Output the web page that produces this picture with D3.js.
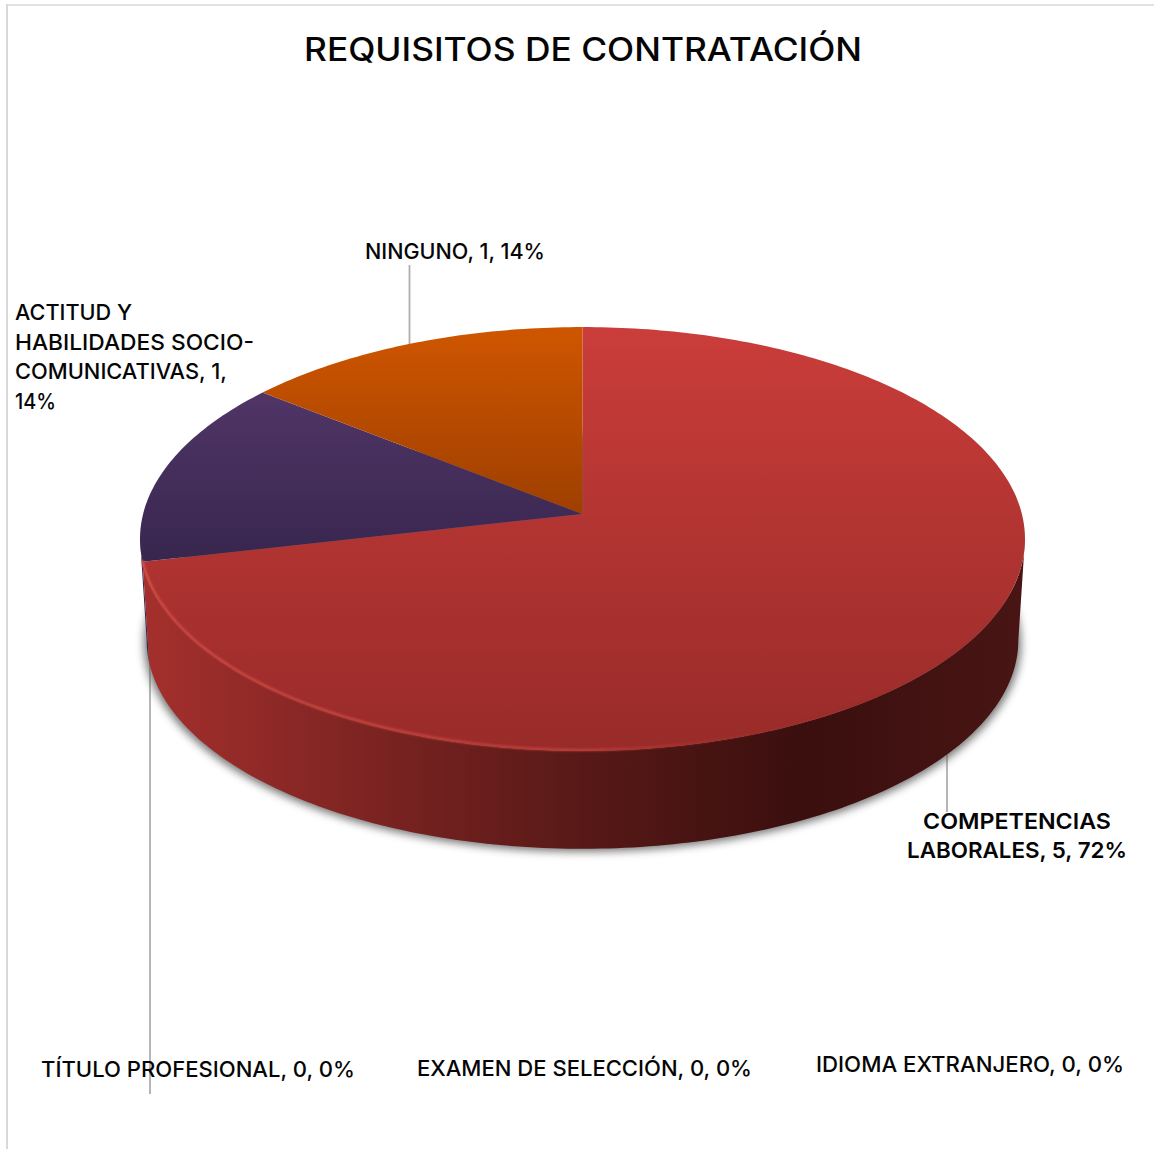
<!DOCTYPE html>
<html>
<head>
<meta charset="utf-8">
<script src="https://cdn.jsdelivr.net/npm/d3@7"></script>
<style>
  html, body { margin: 0; padding: 0; background: #fff; }
  svg { display: block; }
  text { font-family: Inter, "Open Sans", sans-serif; fill: #050505; }
</style>
</head>
<body>
<div id="chart"></div>
<script>
// data
var categories = ['COMPETENCIAS LABORALES', 'ACTITUD Y HABILIDADES SOCIO-COMUNICATIVAS', 'NINGUNO', 'TÍTULO PROFESIONAL', 'EXAMEN DE SELECCIÓN', 'IDIOMA EXTRANJERO']
var values = [5, 1, 1, 0, 0, 0]
var percents = [72, 14, 14, 0, 0, 0]
var chartTitle = 'REQUISITOS DE CONTRATACIÓN'

var width = 1154
var height = 1149

var svg = d3.select('#chart').append('svg')
  .attr('width', width)
  .attr('height', height)

// perspective of the tilted disc, fitted on the picture
var cx = 582.5
var cy = 514
var radius = 439.4
var squash = 209
var tilt = 0.118
var depth = 101
var bottomScale = 0.985

// pie starts at 12 o'clock and goes clockwise
var pie = d3.pie().value(d => d.value).sort(null)
var rows = categories.map((c, i) => ({ name: c, value: values[i], pct: percents[i] }))
var arcs = pie(rows)

function topPoint(a) {
  var w = 1 / (1 + tilt * Math.cos(a))
  return [cx + radius * Math.sin(a) * w, cy - squash * Math.cos(a) * w]
}
function bottomPoint(a) {
  var p = topPoint(a)
  return [cx + (p[0] - cx) * bottomScale, cy + 25 + depth + (p[1] - cy - 25) * bottomScale]
}

var line = d3.line()
function sweep(a0, a1, fn) {
  var n = Math.max(2, Math.ceil(Math.abs(a1 - a0) * 60))
  return d3.range(n + 1).map(i => fn(a0 + (a1 - a0) * i / n))
}

var sideStart = Math.acos(-tilt)
var sideEnd = 2 * Math.PI - sideStart
var defs = svg.append('defs')

function vGrad(id, y0, y1, c0, c1) {
  var g = defs.append('linearGradient').attr('id', id)
    .attr('gradientUnits', 'userSpaceOnUse')
    .attr('x1', 0).attr('x2', 0).attr('y1', y0).attr('y2', y1)
  g.append('stop').attr('offset', 0).attr('stop-color', c0)
  g.append('stop').attr('offset', 1).attr('stop-color', c1)
}
vGrad('top-0', 327, 751, '#ca3d3a', '#982b29')
vGrad('top-1', 393, 562, '#503566', '#38264e')
vGrad('top-2', 327, 514, '#cf5600', '#9e3f00')

function hGrad(id, stops) {
  var g = defs.append('linearGradient').attr('id', id)
    .attr('gradientUnits', 'userSpaceOnUse')
    .attr('x1', 140).attr('x2', 1025).attr('y1', 0).attr('y2', 0)
  stops.forEach(s => g.append('stop').attr('offset', s[0]).attr('stop-color', s[1]).attr('stop-opacity', s[2] === undefined ? 1 : s[2]))
}
hGrad('side-red', [[0, '#a5302d'], [0.25, '#7e2422'], [0.5, '#571917'], [0.75, '#3a0f0e'], [1, '#481514']])
hGrad('rim-light', [[0, '#dc5049', 1], [0.5, '#cf443f', 0.9], [0.7, '#a8322f', 0.3], [0.85, '#8a2a28', 0]])

var blur = defs.append('filter').attr('id', 'shadow-blur')
  .attr('x', '-5%').attr('y', '-5%').attr('width', '110%').attr('height', '110%')
blur.append('feGaussianBlur').attr('stdDeviation', 4.5)
var soft = defs.append('filter').attr('id', 'rim-blur')
  .attr('x', '-5%').attr('y', '-5%').attr('width', '110%').attr('height', '110%')
soft.append('feGaussianBlur').attr('stdDeviation', 0.8)

// chart frame, only top and left show in the crop
var frame = svg.append('g').attr('class', 'frame')
frame.append('line').attr('x1', 7).attr('x2', 7).attr('y1', 4).attr('y2', height)
  .attr('stroke', '#d9d9d9').attr('stroke-width', 2)
frame.append('line').attr('x1', 6).attr('x2', width).attr('y1', 5).attr('y2', 5)
  .attr('stroke', '#d9d9d9').attr('stroke-width', 1.5)

// leader lines sit behind the pie
var leaders = [
  [[409.5, 265], [409.5, 345]],
  [[947, 745], [947, 812]],
  [[150, 650], [150, 1094]]
]
svg.append('g').selectAll('path').data(leaders).enter().append('path')
  .attr('d', line)
  .attr('fill', 'none')
  .attr('stroke', '#aeaeae')
  .attr('stroke-width', 1.8)

// soft shadow under the disc
svg.append('path')
  .attr('d', line(sweep(0, 2 * Math.PI, bottomPoint).map(p => [cx + (p[0] - cx) * 1.006, p[1]])) + 'Z')
  .attr('fill', '#5f5f5f')
  .attr('opacity', 0.85)
  .attr('transform', 'translate(0,3)')
  .attr('filter', 'url(#shadow-blur)')

// side wall: red part, then the sliver of purple at the left edge
var redEnd = arcs[0].endAngle
function wall(a0, a1) {
  return line(sweep(a0, a1, topPoint).concat(sweep(a1, a0, bottomPoint))) + 'Z'
}
svg.append('path').attr('d', wall(redEnd, sideEnd)).attr('fill', '#38264e')
svg.append('path').attr('d', wall(sideStart, redEnd)).attr('fill', 'url(#side-red)')

// top face, one wedge per non empty category
svg.append('g').selectAll('path')
  .data(arcs.filter(d => d.value > 0))
  .enter().append('path')
  .attr('d', d => line([[cx, cy]].concat(sweep(d.startAngle, d.endAngle, topPoint))) + 'Z')
  .attr('fill', d => 'url(#top-' + d.index + ')')

// light bevel on the front edge
svg.append('path')
  .attr('d', line(sweep(sideStart, redEnd, topPoint).map(p => [p[0], p[1] - 1])))
  .attr('fill', 'none')
  .attr('stroke', 'url(#rim-light)')
  .attr('stroke-width', 2)
  .attr('filter', 'url(#rim-blur)')

// title and labels
svg.append('text').text(chartTitle)
  .attr('x', 304).attr('y', 61)
  .attr('font-size', 32).attr('font-weight', 500)
  .attr('textLength', 558).attr('lengthAdjust', 'spacingAndGlyphs')

function labelText(i) {
  return categories[i] + ', ' + values[i] + ', ' + percents[i] + '%'
}
// line breaks and places of the labels, in category order
var labelLayout = [
  { lines: ['COMPETENCIAS', 'LABORALES, 5, 72%'], x: [923, 907], y: [829, 858], w: [188, 220], weight: 600 },
  { lines: ['ACTITUD Y', 'HABILIDADES SOCIO-', 'COMUNICATIVAS, 1,', '14%'], x: [15, 15, 15, 15], y: [320, 350, 379, 409], w: [117, 239, 212, 41], weight: 450 },
  { lines: null, x: [365], y: [259], w: [180], weight: 450 },
  { lines: null, x: [41], y: [1077], w: [314], weight: 450 },
  { lines: null, x: [417], y: [1076], w: [335], weight: 450 },
  { lines: null, x: [816], y: [1072], w: [308], weight: 450 }
]
labelLayout.forEach(function(l, i) {
  var lines = l.lines || [labelText(i)]
  lines.forEach(function(t, j) {
    svg.append('text').text(t)
      .attr('x', l.x[j]).attr('y', l.y[j])
      .attr('font-size', 22).attr('font-weight', l.weight)
      .attr('textLength', l.w[j]).attr('lengthAdjust', 'spacingAndGlyphs')
  })
})
</script>
</body>
</html>
